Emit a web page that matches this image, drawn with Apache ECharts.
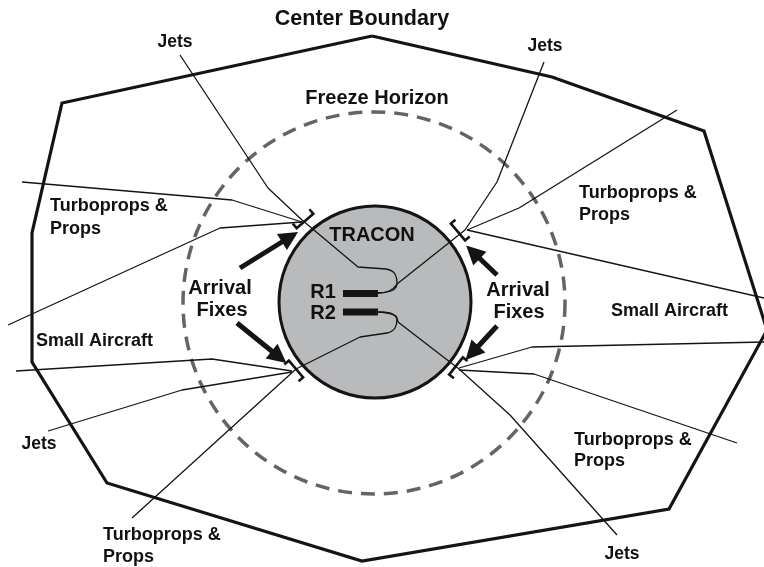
<!DOCTYPE html>
<html><head><meta charset="utf-8">
<script src="https://cdn.jsdelivr.net/npm/echarts@6/dist/echarts.min.js"></script>
<style>html,body{margin:0;padding:0;background:#fff}#c{width:764px;height:567px}</style>
</head><body><div id="c"></div>
<script>
// ---- data (diagram units = reference pixels) ----
const boundary = [[372,36],[552,77],[704,131],[767,330],[669,509],[362,561],[107,483],[32,362],[32,233],[62,103],[372,36]];
const traconCircle = [375,302,96];
const freezeCircle = [374,303,191];
const fixes = [[305,221],[458,232],[296,369],[456,366]];
const straightRoutes = [
  [[180,55],[268,188],[302,220],[358,267],[386,269]],
  [[677,110],[519,208],[467,230]],
  [[544,62],[497,182],[465,230],[397,284]],
  [[467,230],[764,298]],
  [[22,182],[232,200],[302,222]],
  [[302,222],[220,228],[8,325]],
  [[16,371],[212,359],[292,371]],
  [[292,372],[182,390],[48,431]],
  [[132,518],[296,369],[360,337],[387,333]],
  [[398,322],[459,369],[510,415],[617,535]],
  [[459,368],[532,347],[764,342]],
  [[459,370],[534,374],[737,443]]
];
const curvedRoutes = [
  [[386,269],[395,274],[397,283],[391,291],[378,293]],
  [[397,284],[389,291],[378,293]],
  [[387,333],[395,328],[397,319],[391,314],[378,312]],
  [[378,312],[390,313],[396,317],[398,322]]
];
const runways = [[[343,293.5],[378,293.5]],[[343,312],[378,312]]];
const arrows = [
  [[240,268],[290,237]],
  [[237,323],[279,357]],
  [[497,275],[473,252]],
  [[497,326],[472,353]]
];
const bigLabels = [
  ['Center Boundary',362,19],['Freeze Horizon',377,98],['TRACON',372,235],
  ['Arrival',220,288],['Fixes',222,310],['Arrival',518,290],['Fixes',519,312],
  ['R1',323,292],['R2',323,313]
];
const centerLabels = [['Jets',175,42],['Jets',545,46],['Jets',39,444],['Jets',622,554]];
const leftLabels = [
  ['Turboprops &',50,206],['Props',50,229],
  ['Turboprops &',579,193],['Props',579,215],
  ['Small Aircraft',611,311],['Small Aircraft',36,341],
  ['Turboprops &',574,440],['Props',574,461],
  ['Turboprops &',103,535],['Props',103,557]
];

// ---- chart ----
const FONT = '"Liberation Sans", Arial, Helvetica, sans-serif';
const INK = '#141414';
const series = [];

function circleSeries(c, style, z){
  return {type:'custom', z:z, silent:true, clip:false,
    data:[c],
    renderItem:function(params, api){
      const p = api.coord([api.value(0), api.value(1)]);
      const r = api.size([api.value(2), 0])[0];
      return {type:'circle', shape:{cx:p[0], cy:p[1], r:r}, style:style};
    }};
}
series.push(circleSeries(freezeCircle, {fill:null, stroke:'#5f6765', lineWidth:3.5, lineDash:[14,9]}, 1));
series.push(circleSeries(traconCircle, {fill:'#b8babc', stroke:INK, lineWidth:3}, 2));

series.push({type:'line', z:3, data:boundary, symbol:'none', clip:false, silent:true,
  lineStyle:{color:INK, width:3.2, join:'miter'}});

straightRoutes.forEach(function(r){
  series.push({type:'line', z:4, data:r, symbol:'none', clip:false, silent:true,
    lineStyle:{color:INK, width:1.3}});
});
curvedRoutes.forEach(function(r){
  series.push({type:'line', z:4, data:r, symbol:'none', smooth:0.5, clip:false, silent:true,
    lineStyle:{color:INK, width:1.3}});
});
runways.forEach(function(r){
  series.push({type:'line', z:5, data:r, symbol:'none', clip:false, silent:true,
    lineStyle:{color:INK, width:7, cap:'butt'}});
});

series.push({type:'custom', z:6, silent:true, clip:false, data:fixes,
  renderItem:function(params, api){
    const c = api.coord([api.value(0), api.value(1)]);
    const o = api.coord([traconCircle[0], traconCircle[1]]);
    let nx = c[0]-o[0], ny = c[1]-o[1];
    const d = Math.sqrt(nx*nx+ny*ny); nx/=d; ny/=d;
    const tx = -ny, ty = nx;
    const L = api.size([11,0])[0], T = api.size([6,0])[0];
    const pts = [
      [c[0]-tx*L+nx*T, c[1]-ty*L+ny*T],
      [c[0]-tx*L, c[1]-ty*L],
      [c[0]+tx*L, c[1]+ty*L],
      [c[0]+tx*L+nx*T, c[1]+ty*L+ny*T]
    ];
    return {type:'polyline', shape:{points:pts}, style:{fill:null, stroke:INK, lineWidth:2.6}};
  }});

series.push({type:'lines', coordinateSystem:'cartesian2d', z:7, silent:true,
  symbol:['none','triangle'], symbolSize:19,
  lineStyle:{color:INK, width:5, opacity:1},
  data:arrows.map(function(a){return {coords:a};})});

function labelSeries(list, size, align){
  return {type:'scatter', z:10, silent:true, symbolSize:0, clip:false,
    itemStyle:{opacity:1},
    data:list.map(function(l){return {name:l[0], value:[l[1], l[2]]};}),
    label:{show:true, position:'inside', formatter:'{b}', color:'#111111', opacity:1,
      fontFamily:FONT, fontWeight:'bold', fontSize:size, align:align, verticalAlign:'middle'}};
}
series.push(labelSeries([bigLabels[0]], 21.5, 'center'));
series.push(labelSeries(bigLabels.slice(1), 20, 'center'));
series.push(labelSeries(centerLabels, 17.5, 'center'));
series.push(labelSeries(leftLabels, 18, 'left'));

const chart = echarts.init(document.getElementById('c'), null, {renderer:'canvas'});
chart.setOption({
  animation:false,
  backgroundColor:'#ffffff',
  grid:{left:0, right:0, top:0, bottom:0},
  xAxis:{type:'value', min:0, max:764, show:false},
  yAxis:{type:'value', min:0, max:567, inverse:true, show:false},
  series:series
});
</script></body></html>
